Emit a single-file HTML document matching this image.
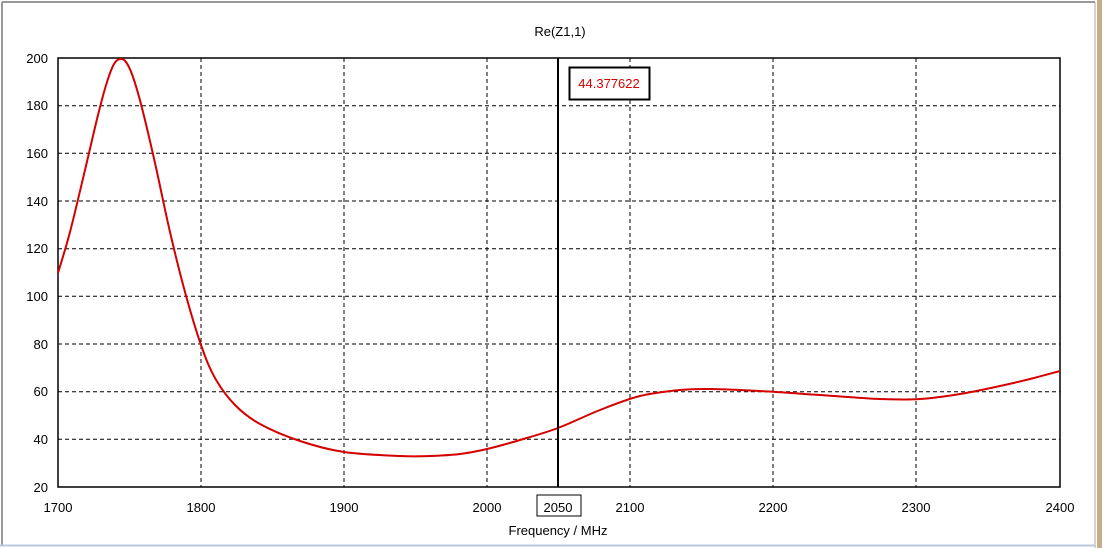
<!DOCTYPE html>
<html><head><style>body{margin:0;background:#fff}svg{display:block;font-family:"Liberation Sans",sans-serif}</style></head><body>
<svg width="1102" height="548" xmlns="http://www.w3.org/2000/svg">
<rect x="0" y="0" width="1102" height="548" fill="#fff"/>
<line x1="2" y1="2" x2="1095" y2="2" stroke="#999" stroke-width="2"/>
<line x1="2" y1="2" x2="2" y2="546" stroke="#999" stroke-width="2"/>
<line x1="1095" y1="2" x2="1095" y2="548" stroke="#aaa" stroke-width="1"/>
<rect x="1097" y="0" width="5" height="548" fill="#c8ad88"/>
<line x1="0" y1="545.5" x2="1095" y2="545.5" stroke="#b8c8dc" stroke-width="2"/>
<text x="560" y="36" font-size="13" text-anchor="middle">Re(Z1,1)</text>
<g stroke="#000" stroke-dasharray="4,3" stroke-width="1">
<line x1="201" y1="58" x2="201" y2="487"/><line x1="344" y1="58" x2="344" y2="487"/><line x1="487" y1="58" x2="487" y2="487"/><line x1="630" y1="58" x2="630" y2="487"/><line x1="773" y1="58" x2="773" y2="487"/><line x1="916" y1="58" x2="916" y2="487"/>
<line x1="58" y1="105.7" x2="1060" y2="105.7"/><line x1="58" y1="153.3" x2="1060" y2="153.3"/><line x1="58" y1="201" x2="1060" y2="201"/><line x1="58" y1="248.7" x2="1060" y2="248.7"/><line x1="58" y1="296.3" x2="1060" y2="296.3"/><line x1="58" y1="344" x2="1060" y2="344"/><line x1="58" y1="391.7" x2="1060" y2="391.7"/><line x1="58" y1="439.3" x2="1060" y2="439.3"/>
</g>
<rect x="58" y="58" width="1002" height="429" fill="none" stroke="#000" stroke-width="1.5"/>
<g font-size="13" text-anchor="end">
<text x="48" y="63">200</text><text x="48" y="110">180</text><text x="48" y="158">160</text><text x="48" y="206">140</text><text x="48" y="253">120</text><text x="48" y="301">100</text><text x="48" y="349">80</text><text x="48" y="396">60</text><text x="48" y="444">40</text><text x="48" y="492">20</text>
</g>
<g font-size="13" text-anchor="middle">
<text x="58" y="512">1700</text><text x="201" y="512">1800</text><text x="344" y="512">1900</text><text x="487" y="512">2000</text><text x="630" y="512">2100</text><text x="773" y="512">2200</text><text x="916" y="512">2300</text><text x="1060" y="512">2400</text>
<text x="558" y="512">2050</text>
<text x="558" y="535">Frequency / MHz</text>
</g>
<rect x="537" y="495" width="44" height="21" fill="none" stroke="#000"/>
<path id="c" fill="none" stroke="#d40000" stroke-width="2"/>
<line x1="558" y1="58" x2="558" y2="487" stroke="#000" stroke-width="2"/>
<rect x="569.5" y="67.5" width="80" height="32" fill="#fff" stroke="#000" stroke-width="2"/>
<text x="609" y="88" font-size="13" fill="#d40000" text-anchor="middle">44.377622</text>
</svg>
<script>
var p=[[58,273],[70,232],[85,170],[98,115],[107,82],[114,64],[120,59],[126,62],[133,77],[142,108],[155,163],[170,232],[185,292],[201,345],[215,378],[235,405],[260,424],[300,441],[344,452],[400,456],[430,456],[460,454],[487,449],[520,440],[558,428],[600,410],[640,396],[680,390],[710,389],[760,391],[820,395],[880,399],[920,399],[960,394],[1000,386],[1030,379],[1060,371]];
var d="M"+p[0];
for(var i=0;i<p.length-1;i++){var a=p[Math.max(i-1,0)],b=p[i],c=p[i+1],e=p[Math.min(i+2,p.length-1)];
d+="C"+(b[0]+(c[0]-a[0])/6)+","+(b[1]+(c[1]-a[1])/6)+" "+(c[0]-(e[0]-b[0])/6)+","+(c[1]-(e[1]-b[1])/6)+" "+c[0]+","+c[1];}
document.getElementById("c").setAttribute("d",d);
</script>
</body></html>
